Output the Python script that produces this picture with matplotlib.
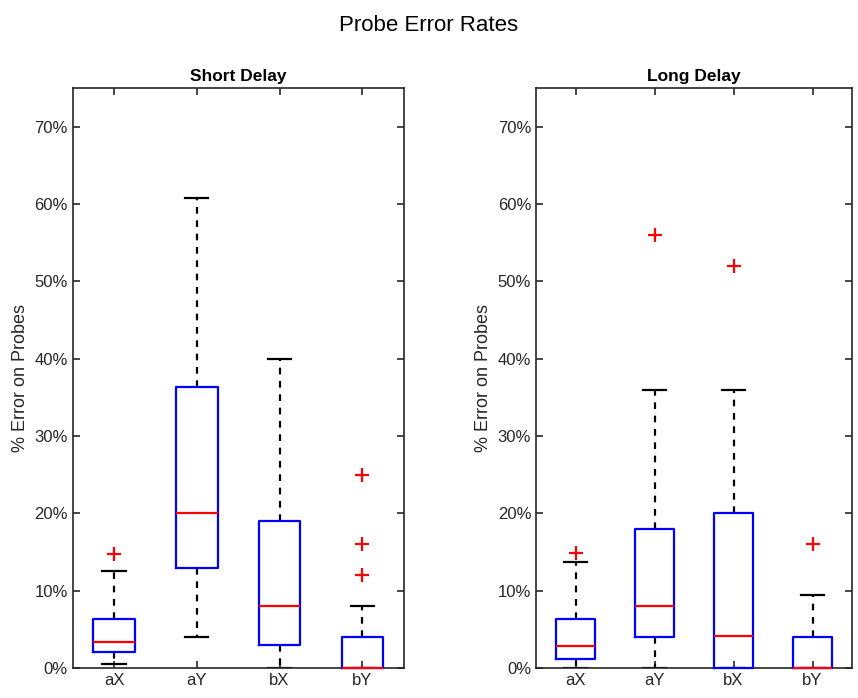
import matplotlib.pyplot as plt
from matplotlib.ticker import PercentFormatter

plt.rcParams['font.family'] = ['Liberation Sans', 'DejaVu Sans']

labels = ['aX', 'aY', 'bX', 'bY']

# box stats, in percent
short_med = [3.4, 20.0, 8.0, 0.0]
short_q1 = [2.1, 12.9, 3.0, 0.0]
short_q3 = [6.3, 36.4, 19.0, 4.0]
short_lo = [0.5, 4.0, 0.0, 0.0]
short_hi = [12.5, 60.8, 40.0, 8.0]
short_out = [[14.7], [], [], [12.0, 16.0, 25.0]]

long_med = [2.8, 8.0, 4.1, 0.0]
long_q1 = [1.1, 4.0, 0.0, 0.0]
long_q3 = [6.4, 18.0, 20.0, 4.0]
long_lo = [0.0, 0.0, 0.0, 0.0]
long_hi = [13.7, 36.0, 36.0, 9.5]
long_out = [[14.9], [56.0], [52.0], [16.0]]


def stats(med, q1, q3, lo, hi, out):
    res = []
    for i in range(len(labels)):
        res.append(dict(med=med[i], q1=q1[i], q3=q3[i], whislo=lo[i],
                        whishi=hi[i], fliers=out[i], label=labels[i]))
    return res


def draw(ax, st, title):
    ax.bxp(st, widths=0.5, capwidths=0.28,
           boxprops=dict(color='#0000ff', linewidth=1.6, clip_on=False, zorder=3),
           medianprops=dict(color='#ff0000', linewidth=1.6, clip_on=False, zorder=4),
           whiskerprops=dict(color='black', linewidth=1.6, linestyle=(0, (3, 3))),
           capprops=dict(color='black', linewidth=1.6),
           flierprops=dict(marker='+', markeredgecolor='#ff0000',
                           markersize=10, markeredgewidth=1.6))
    ax.set_xlim(0.5, 4.5)
    ax.set_ylim(0, 75)
    ax.set_yticks(range(0, 71, 10))
    ax.yaxis.set_major_formatter(PercentFormatter(decimals=0))
    ax.tick_params(direction='in', top=True, right=True, length=5,
                   labelsize=12, colors='#262626', width=1.2)
    for s in ax.spines.values():
        s.set_linewidth(1.2)
        s.set_color('#262626')
    ax.set_title(title, fontsize=12.5, fontweight='bold', pad=5)
    ax.set_ylabel('% Error on Probes', fontsize=13, color='#262626')


fig = plt.figure(figsize=(8.58, 6.98), dpi=100)
ax1 = fig.add_axes([72.7 / 858, 30 / 698, 331 / 858, 580 / 698])
ax2 = fig.add_axes([536 / 858, 30 / 698, 316 / 858, 580 / 698])

draw(ax1, stats(short_med, short_q1, short_q3, short_lo, short_hi, short_out), 'Short Delay')
draw(ax2, stats(long_med, long_q1, long_q3, long_lo, long_hi, long_out), 'Long Delay')

fig.suptitle('Probe Error Rates', fontsize=16, y=0.978)
fig.savefig('out.png', dpi=100)
